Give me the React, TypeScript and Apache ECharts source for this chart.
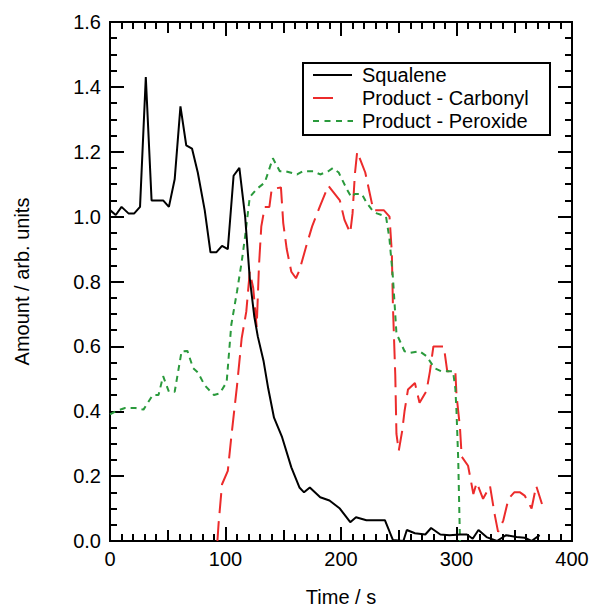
import React, { useEffect, useRef } from "react";
import * as echarts from "echarts";

const squalene: [number, number][] = [
  [0, 1.02], [5, 1.005], [10, 1.03], [16, 1.01], [21, 1.01], [26, 1.03], [31, 1.43], [36, 1.05],
  [46, 1.05], [51, 1.03], [56, 1.115], [61, 1.34], [66, 1.22], [71, 1.21], [76, 1.136], [82, 1.02],
  [87, 0.89], [92, 0.89], [97, 0.91], [102, 0.9], [107, 1.126], [112, 1.15], [117, 1.0], [121, 0.81],
  [125, 0.69], [128, 0.63], [133, 0.554], [137, 0.47], [142, 0.38], [149, 0.32], [157, 0.227],
  [164, 0.165], [168, 0.15], [173, 0.165], [182, 0.135], [190, 0.125], [199, 0.1], [208, 0.058],
  [213, 0.073], [222, 0.064], [238, 0.064], [245, 0.003], [254, 0], [257, 0.034], [264, 0.024],
  [273, 0.02], [278, 0.04], [286, 0.02], [294, 0.018], [303, 0.02], [309, 0.02], [314, 0.007],
  [319, 0.034], [326, 0.012], [335, 0], [343, 0.018], [352, 0.012], [359, 0.01], [365, 0], [372, 0.018],
];

const carbonyl: [number, number][] = [
  [93, 0], [94, 0.053], [97, 0.175], [102, 0.216], [105, 0.32], [110, 0.48], [114, 0.625],
  [118, 0.707], [121, 0.83], [124, 0.78], [127, 0.66], [129, 0.85], [131, 0.97], [134, 1.03],
  [138, 1.03], [140, 1.085], [148, 1.09], [150, 0.98], [153, 0.9], [157, 0.83], [161, 0.81],
  [164, 0.834], [170, 0.91], [175, 0.97], [182, 1.034], [189, 1.095], [199, 1.05], [203, 0.99],
  [208, 0.95], [210, 1.01], [212, 1.13], [214, 1.2], [221, 1.136], [225, 1.07], [228, 1.02],
  [237, 1.02], [242, 1.0], [244, 0.89], [245, 0.72], [247, 0.51], [248, 0.33], [250, 0.278],
  [253, 0.34], [255, 0.4], [258, 0.467], [264, 0.487], [268, 0.426], [274, 0.462], [277, 0.523],
  [280, 0.6], [289, 0.6], [292, 0.523], [299, 0.523], [300, 0.45], [303, 0.35], [304.5, 0.26],
  [310, 0.232], [314.6, 0.145], [317.5, 0.18], [323, 0.13], [329, 0.17], [333, 0.083], [336, 0.028],
  [340.5, 0.063], [345, 0.13], [350, 0.15], [355, 0.15], [359, 0.14], [365, 0.1], [369, 0.17],
  [374, 0.114],
];

const peroxide: [number, number][] = [
  [0, 0.39], [5, 0.4], [13, 0.41], [22, 0.41], [29, 0.405], [37, 0.45], [42, 0.45], [46, 0.508],
  [51, 0.46], [56, 0.46], [62, 0.585], [67, 0.586], [72, 0.533], [76, 0.52], [82, 0.48], [90, 0.45],
  [95, 0.455], [101, 0.49], [105, 0.666], [110, 0.77], [114, 0.86], [117, 0.94], [121, 1.06],
  [127, 1.085], [134, 1.105], [141, 1.18], [147, 1.14], [152, 1.14], [162, 1.13], [167, 1.14],
  [176, 1.14], [182, 1.13], [189, 1.14], [193, 1.15], [198, 1.136], [205, 1.085], [209, 1.06],
  [212, 1.07], [218, 1.07], [222, 1.044], [227, 1.02], [231, 1.01], [239, 1.0], [242, 0.93],
  [245, 0.81], [248, 0.64], [255, 0.585], [260, 0.58], [268, 0.585], [274, 0.57], [281, 0.533],
  [287, 0.523], [297, 0.523], [299, 0.47], [300, 0.4], [301.5, 0.25], [303, 0],
];

const seriesNames = ["Squalene", "Product - Carbonyl", "Product - Peroxide"];
const xTickLabels = ["0", "100", "200", "300", "400"];
const yTickLabels = ["0.0", "0.2", "0.4", "0.6", "0.8", "1.0", "1.2", "1.4", "1.6"];

const FONT = "Liberation Sans";
const BLACK = "#000";
const RED = "#ec2b2b";
const GREEN = "#2a9a3c";

export default function App() {
  const ref = useRef<HTMLDivElement>(null);
  useEffect(() => {
    if (!ref.current) return;
    const chart = echarts.init(ref.current, null, { renderer: "svg" });
    const lw = 2;
    const axisLine = { show: true, onZero: false, lineStyle: { color: BLACK, width: lw } };
    const tickStyle = { color: BLACK, width: lw };
    const xCommon = { type: "value" as const, min: 0, max: 400, splitLine: { show: false }, axisLine };
    const yCommon = { type: "value" as const, min: 0, max: 1.6, interval: 0.2, splitLine: { show: false }, axisLine };
    const xMain = {
      ...xCommon,
      interval: 100,
      axisTick: { show: true, inside: true, length: 14, lineStyle: tickStyle },
      minorTick: { show: true, splitNumber: 10, length: 7, lineStyle: tickStyle },
    };
    const xMid = {
      ...xCommon,
      interval: 50,
      axisTick: { show: true, inside: true, length: 11, lineStyle: tickStyle },
      axisLabel: { show: false },
    };
    const yMain = {
      ...yCommon,
      axisTick: { show: true, inside: true, length: 14, lineStyle: tickStyle },
      minorTick: { show: true, splitNumber: 4, length: 7, lineStyle: tickStyle },
    };
    const legendTop = 63;
    const rowY = [75, 98, 121];
    const sampleX0 = 313;
    const textX = 362;
    chart.setOption({
      animation: false,
      textStyle: { fontFamily: FONT },
      grid: { left: 110, right: 23, top: 22, bottom: 68 },
      xAxis: [
        {
          ...xMain,
          position: "bottom",
          name: "Time / s",
          nameLocation: "middle",
          nameGap: 46,
          nameTextStyle: { fontFamily: FONT, fontSize: 20, color: BLACK },
          axisLabel: {
            show: true,
            margin: 8,
            fontFamily: FONT,
            fontSize: 20,
            color: BLACK,
            formatter: (v: number) => xTickLabels[Math.round(v / 100)] ?? "",
          },
        },
        { ...xMain, position: "top", axisLabel: { show: false } },
        { ...xMid, position: "bottom" },
        { ...xMid, position: "top" },
      ],
      yAxis: [
        {
          ...yMain,
          position: "left",
          name: "Amount / arb. units",
          nameLocation: "middle",
          nameGap: 78,
          nameTextStyle: { fontFamily: FONT, fontSize: 20, color: BLACK },
          axisLabel: {
            show: true,
            margin: 9,
            fontFamily: FONT,
            fontSize: 20,
            color: BLACK,
            formatter: (v: number) => yTickLabels[Math.round(v / 0.2)] ?? "",
          },
        },
        { ...yMain, position: "right", axisLabel: { show: false } },
      ],
      graphic: [
        {
          type: "rect",
          shape: { x: 303, y: legendTop, width: 247, height: 72 },
          style: { fill: "#fff", stroke: BLACK, lineWidth: 2 },
          z: 100,
        },
        {
          type: "line",
          shape: { x1: sampleX0, y1: rowY[0], x2: sampleX0 + 39, y2: rowY[0] },
          style: { stroke: BLACK, lineWidth: 2 },
          z: 101,
        },
        {
          type: "line",
          shape: { x1: sampleX0, y1: rowY[1], x2: sampleX0 + 20, y2: rowY[1] },
          style: { stroke: RED, lineWidth: 2 },
          z: 101,
        },
        {
          type: "line",
          shape: { x1: sampleX0, y1: rowY[2], x2: sampleX0 + 40, y2: rowY[2] },
          style: { stroke: GREEN, lineWidth: 2, lineDash: [6, 5.5] },
          z: 101,
        },
        ...seriesNames.map((name, i) => ({
          type: "text",
          x: textX,
          y: rowY[i],
          style: { text: name, font: `20px '${FONT}'`, fill: BLACK, verticalAlign: "middle", align: "left" },
          z: 101,
        })),
      ],
      series: [
        {
          name: seriesNames[0],
          type: "line",
          data: squalene,
          symbol: "none",
          lineStyle: { color: BLACK, width: 2 },
          z: 5,
        },
        {
          name: seriesNames[1],
          type: "line",
          data: carbonyl,
          symbol: "none",
          lineStyle: { color: RED, width: 2, type: [20, 8] },
        },
        {
          name: seriesNames[2],
          type: "line",
          data: peroxide,
          symbol: "none",
          lineStyle: { color: GREEN, width: 2, type: [6, 5] },
        },
      ],
    });
    return () => chart.dispose();
  }, []);
  return <div ref={ref} style={{ width: 595, height: 612, position: "absolute", left: 0, top: 0 }} />;
}
